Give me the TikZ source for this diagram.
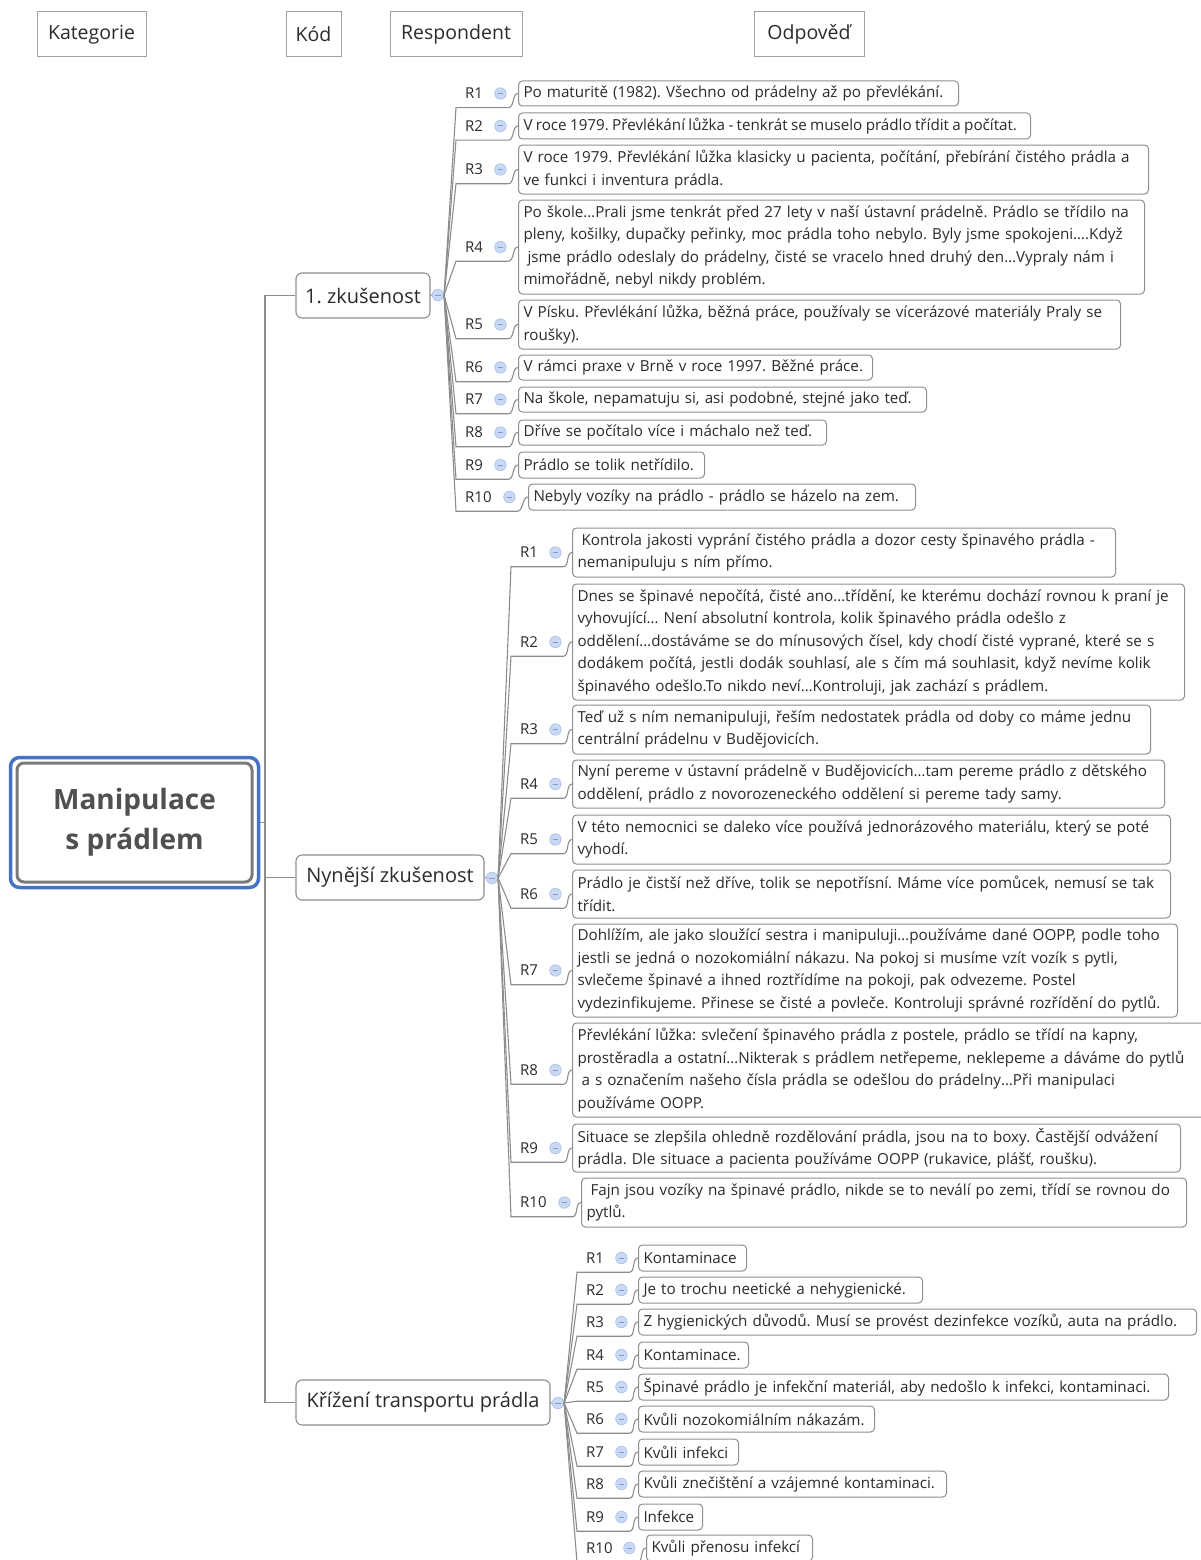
\documentclass[tikz,border=0pt]{standalone}
\usepackage{fontspec}
\setmainfont{Open Sans}
\usetikzlibrary{fit}
\frenchspacing
\hyphenpenalty=10000
\exhyphenpenalty=10000

\definecolor{boxgray}{HTML}{8F8F8F}
\definecolor{linegray}{HTML}{8C8C8C}
\definecolor{txt}{HTML}{2B2B2B}
\definecolor{rootblue}{HTML}{4472C4}
\definecolor{rootgray}{HTML}{7A7A7A}
\definecolor{roottxt}{HTML}{505050}
\definecolor{minifill}{HTML}{C9D8F4}
\definecolor{miniedge}{HTML}{ADC2EA}
\definecolor{minidash}{HTML}{8299C9}

% one respondent row: label with underline, collapse icon, answer box, connector
% #1 name prefix, #2 label, #3 fan x, #4 label width, #5 row y,
% #6 box x, #7 box width, #8 box height, #9 answer text
\newcommand{\resp}[9]{%
  \pgfmathsetmacro\rlw{#4-18}%
  \pgfmathsetmacro\atw{#7-10}%
  \node[rlab, text width=\rlw pt] (#1r) at (#3,#5) {#2};
  \node[mini] (#1m) at ([xshift=-8pt]#1r.east) {};
  \node[ans, text width=\atw pt, minimum height=#8] (#1a) at (#6,#5) {#9};
  \draw[conn] (\curicon.east) -- (#1r.south west) -- (#1r.south east)
    .. controls +(6,0) and +(-6,0) .. (#1a.west);
}

\begin{document}
\begin{tikzpicture}[x=1pt,y=-1pt,
  conn/.style={draw=linegray, line width=1.1},
  hdr/.style={draw=boxgray!85, line width=1, minimum height=45, inner xsep=7,
    font=\fontsize{19.5}{24}\selectfont, text=txt},
  rootin/.style={draw=rootgray, line width=3, rounded corners=7, fill=white,
    minimum width=235, minimum height=119, align=center,
    font=\fontsize{28}{40}\selectfont\bfseries, text=roottxt},
  rootout/.style={draw=rootblue, line width=3.5, rounded corners=9},
  br/.style={draw=boxgray, line width=1.1, rounded corners=6, fill=white,
    minimum height=45, inner xsep=8, font=\fontsize{20}{24}\selectfont, text=txt},
  mini/.style={circle, minimum size=11.5, inner sep=0, fill=minifill, draw=miniedge,
    line width=0.7, path picture={\draw[minidash, line width=1]
      ([xshift=-2.8pt]path picture bounding box.center) --
      ([xshift=2.8pt]path picture bounding box.center);}},
  rlab/.style={anchor=west, minimum height=28, inner xsep=9, inner ysep=0,
    align=left, font=\fontsize{15}{18}\selectfont, text=txt},
  ans/.style={anchor=west, draw=boxgray, line width=1, rounded corners=4, fill=white,
    inner xsep=5, inner ysep=1, align=left,
    font=\fontsize{15.2}{22.5}\selectfont, text=txt}
]
\useasboundingbox (0,0) rectangle (1200,1560);

% column headers
\node[hdr, minimum width=109] (h1) at (91.5,34.5) {Kategorie};
\node[hdr, minimum width=55] (h2) at (313.5,34.5) {Kód};
\node[hdr, minimum width=132] (h3) at (456,34.5) {Respondent};
\node[hdr, minimum width=110] (h4) at (809,34.5) {Odpověď};

% central topic
\node[rootin] (root) at (134.5,822.5) {Manipulace\\s prádlem};
\node[rootout, fit=(root), inner xsep=5, inner ysep=4] (rootframe) {};

% main branches
\node[br, minimum width=134] (b1) at (363,295.5) {1. zkušenost};
\node[br, minimum width=188] (b2) at (390,877.5) {Nynější zkušenost};
\node[br, minimum width=254] (b3) at (423,1402.5) {Křížení transportu prádla};
\node[mini] (m1) at (438,295) {};
\node[mini] (m2) at (492,878) {};
\node[mini] (m3) at (558,1403) {};
\draw[conn] (b1.east) -- (m1.west);
\draw[conn] (b2.east) -- (m2.west);
\draw[conn] (b3.east) -- (m3.west);

% trunk
\coordinate (tr) at (265,822.5);
\draw[conn] (rootframe.east) -- (tr);
\draw[conn] (b1.west) -| (tr);
\draw[conn] (b3.west) -| (tr);
\draw[conn] (b2.west) -- (b2.west -| tr);

% 1. zkušenost
\def\curicon{m1}
\resp{p11}{R1}{456}{52}{93.5}{518}{440}{25}{Po maturitě (1982). Všechno od prádelny až po převlékání.}
\resp{p12}{R2}{456}{52}{126}{518}{512}{26}{\spaceskip=0.22em V roce 1979. Převlékání lůžka - tenkrát se muselo prádlo třídit a počítat.}
\resp{p13}{R3}{456}{52}{169.5}{518}{630}{49}{V roce 1979. Převlékání lůžka klasicky u pacienta, počítání, přebírání čistého prádla a\\ve funkci i inventura prádla.}
\resp{p14}{R4}{456}{52}{247}{518}{626}{94}{Po škole…Prali jsme tenkrát před 27 lety v naší ústavní prádelně. Prádlo se třídilo na\\pleny, košilky, dupačky peřinky, moc prádla toho nebylo. Byly jsme spokojeni….Když\\\hspace*{4pt}jsme prádlo odeslaly do prádelny, čisté se vracelo hned druhý den…Vypraly nám i\\mimořádně, nebyl nikdy problém.}
\resp{p15}{R5}{456}{52}{324.5}{518}{602}{49}{V Písku. Převlékání lůžka, běžná práce, používaly se vícerázové materiály Praly se\\roušky).}
\resp{p16}{R6}{456}{52}{367.5}{518}{354}{25}{V rámci praxe v Brně v roce 1997. Běžné práce.}
\resp{p17}{R7}{456}{52}{399.5}{518}{408}{25}{Na škole, nepamatuju si, asi podobné, stejné jako teď.}
\resp{p18}{R8}{456}{52}{432.5}{518}{308}{25}{Dříve se počítalo více i máchalo než teď.}
\resp{p19}{R9}{456}{52}{465}{518}{186}{26}{Prádlo se tolik netřídilo.}
\resp{p1a}{R10}{456}{61}{497}{528}{387}{26}{Nebyly vozíky na prádlo - prádlo se házelo na zem.}

% Nynější zkušenost
\def\curicon{m2}
\resp{p21}{R1}{511}{52}{552.5}{572}{543}{49}{\hspace*{4pt}Kontrola jakosti vyprání čistého prádla a dozor cesty špinavého prádla -\\nemanipuluju s ním přímo.}
\resp{p22}{R2}{511}{52}{642}{572}{612}{116}{Dnes se špinavé nepočítá, čisté ano…třídění, ke kterému dochází rovnou k praní je\\vyhovující… Není absolutní kontrola, kolik špinavého prádla odešlo z\\oddělení…dostáváme se do mínusových čísel, kdy chodí čisté vyprané, které se s\\dodákem počítá, jestli dodák souhlasí, ale s čím má souhlasit, když nevíme kolik\\špinavého odešlo.To nikdo neví…Kontroluji, jak zachází s prádlem.}
\resp{p23}{R3}{511}{52}{729.5}{572}{578}{49}{Teď už s ním nemanipuluji, řeším nedostatek prádla od doby co máme jednu\\centrální prádelnu v Budějovicích.}
\resp{p24}{R4}{511}{52}{784}{572}{592}{48}{Nyní pereme v ústavní prádelně v Budějovicích…tam pereme prádlo z dětského\\oddělení, prádlo z novorozeneckého oddělení si pereme tady samy.}
\resp{p25}{R5}{511}{52}{839.5}{572}{598}{49}{V této nemocnici se daleko více používá jednorázového materiálu, který se poté\\vyhodí.}
\resp{p26}{R6}{511}{52}{894}{572}{598}{48}{Prádlo je čistší než dříve, tolik se nepotřísní. Máme více pomůcek, nemusí se tak\\třídit.}
\resp{p27}{R7}{511}{52}{970.5}{572}{605}{93}{Dohlížím, ale jako sloužící sestra i manipuluji…používáme dané OOPP, podle toho\\jestli se jedná o nozokomiální nákazu. Na pokoj si musíme vzít vozík s pytli,\\svlečeme špinavé a ihned roztřídíme na pokoji, pak odvezeme. Postel\\vydezinfikujeme. Přinese se čisté a povleče. Kontroluji správné rozřídění do pytlů.}
\resp{p28}{R8}{511}{52}{1070}{572}{640}{94}{Převlékání lůžka: svlečení špinavého prádla z postele, prádlo se třídí na kapny,\\prostěradla a ostatní…Nikterak s prádlem netřepeme, neklepeme a dáváme do pytlů\\\hspace*{4pt}a s označením našeho čísla prádla se odešlou do prádelny…Při manipulaci\\používáme OOPP.}
\resp{p29}{R9}{511}{52}{1148}{572}{608}{48}{Situace se zlepšila ohledně rozdělování prádla, jsou na to boxy. Častější odvážení\\prádla. Dle situace a pacienta používáme OOPP (rukavice, plášť, roušku).}
\resp{p2a}{R10}{511}{61}{1202.5}{581}{605}{49}{\hspace*{4pt}Fajn jsou vozíky na špinavé prádlo, nikde se to neválí po zemi, třídí se rovnou do\\pytlů.}

% Křížení transportu prádla
\def\curicon{m3}
\resp{p31}{R1}{577}{52}{1258}{638}{108}{26}{Kontaminace}
\resp{p32}{R2}{577}{52}{1290}{638}{284}{26}{Je to trochu neetické a nehygienické.}
\resp{p33}{R3}{577}{52}{1322}{638}{558}{26}{Z hygienických důvodů. Musí se provést dezinfekce vozíků, auta na prádlo.}
\resp{p34}{R4}{577}{52}{1355}{638}{110}{26}{Kontaminace.}
\resp{p35}{R5}{577}{52}{1387}{638}{530}{26}{Špinavé prádlo je infekční materiál, aby nedošlo k infekci, kontaminaci.}
\resp{p36}{R6}{577}{52}{1419}{638}{236}{26}{Kvůli nozokomiálním nákazám.}
\resp{p37}{R7}{577}{52}{1452}{638}{100}{26}{Kvůli infekci}
\resp{p38}{R8}{577}{52}{1484}{638}{308}{26}{Kvůli znečištění a vzájemné kontaminaci.}
\resp{p39}{R9}{577}{52}{1517}{638}{64}{26}{Infekce}
\resp{p3a}{R10}{577}{60}{1548}{646}{166}{26}{Kvůli přenosu infekcí}

\end{tikzpicture}
\end{document}
